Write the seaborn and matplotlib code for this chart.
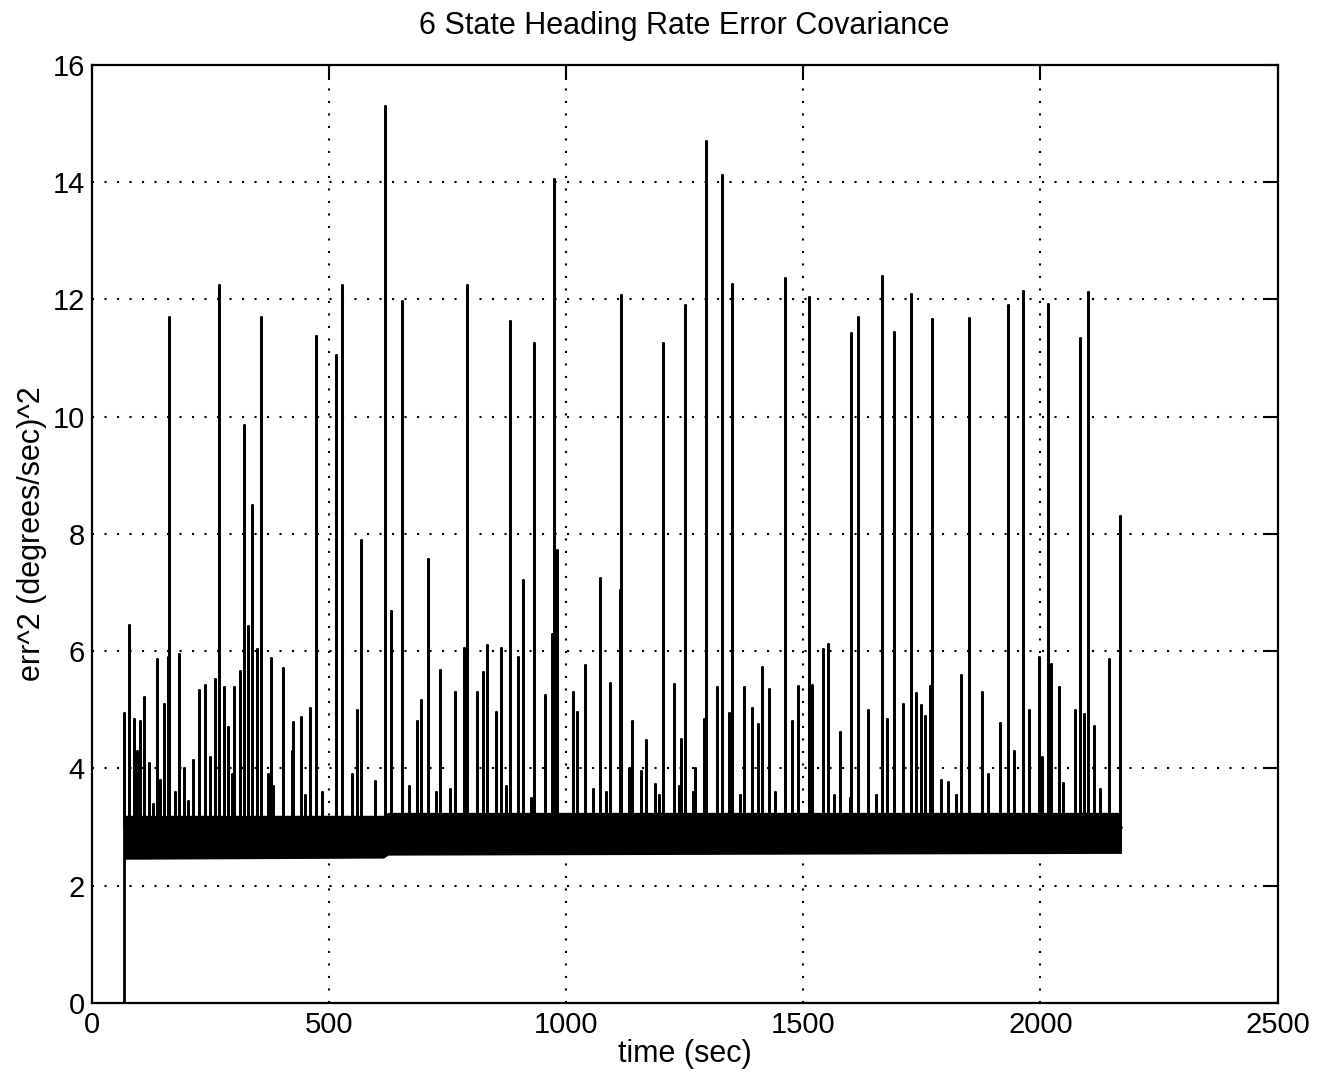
import numpy as np
import pandas as pd
import matplotlib
matplotlib.use("Agg")
import matplotlib.pyplot as plt
import seaborn as sns

# ---- data ----
# large spikes (time in sec, value)
big_t = [164, 268, 322, 339, 357, 474, 516, 528, 568, 618, 632, 655, 710, 791, 883,
         909, 932, 974, 982, 1071, 1113, 1115, 1204, 1250, 1296, 1329, 1350, 1461,
         1512, 1601, 1616, 1666, 1692, 1727, 1772, 1850, 1932, 1963, 2017, 2084,
         2100, 2167]
big_v = [11.7, 12.25, 9.86, 8.5, 11.7, 11.37, 11.06, 12.24, 7.9, 15.3, 6.68, 11.98,
         7.58, 12.25, 11.64, 7.22, 11.26, 14.05, 7.72, 7.24, 7.05, 12.07, 11.26, 11.9,
         14.7, 14.12, 12.26, 12.37, 12.05, 11.43, 11.7, 12.4, 11.45, 12.09, 11.66,
         11.69, 11.9, 12.15, 11.93, 11.35, 12.13, 8.3]

# medium spikes
mid_t = [68, 79, 90, 102, 110, 137, 153, 160, 184, 214, 226, 240, 261, 280, 288, 301,
         313, 330, 348, 378, 404, 425, 441, 460, 559, 686, 695, 734, 767, 786, 812,
         824, 834, 852, 862, 899, 955, 971, 1015, 1023, 1041, 1092, 1133, 1140, 1159,
         1168, 1227, 1243, 1271, 1290, 1319, 1343, 1376, 1393, 1404, 1414, 1429, 1477,
         1489, 1519, 1541, 1553, 1577, 1636, 1677, 1711, 1738, 1749, 1756, 1768, 1791,
         1805, 1833, 1877, 1914, 1945, 1977, 1997, 2004, 2023, 2039, 2072, 2091, 2114,
         2144]
mid_v = [4.94, 6.44, 4.84, 4.8, 5.21, 5.86, 5.1, 5.9, 5.95, 4.14, 5.33, 5.43, 5.52,
         5.38, 4.7, 5.38, 5.66, 6.43, 6.03, 5.88, 5.72, 4.79, 4.88, 5.03, 5.0, 4.8,
         5.16, 5.68, 5.3, 6.05, 5.3, 5.64, 6.1, 4.96, 6.05, 5.9, 5.25, 6.3, 5.3, 4.96,
         5.76, 5.45, 4.0, 4.8, 3.95, 4.48, 5.44, 4.5, 4.0, 4.85, 5.38, 4.94, 5.38, 5.03,
         4.75, 5.73, 5.36, 4.8, 5.4, 5.43, 6.03, 6.12, 4.62, 5.0, 4.85, 5.1, 5.28, 5.08,
         4.89, 5.4, 3.8, 3.76, 5.6, 5.3, 4.77, 4.3, 5.0, 5.9, 4.19, 5.78, 5.38, 5.0,
         4.93, 4.72, 5.86]

# small spikes just above the dense band
small_t = [95, 120, 130, 145, 175, 195, 204, 250, 295, 372, 383, 422, 450, 485, 548,
           597, 670, 727, 756, 874, 927, 1057, 1085, 1187, 1197, 1239, 1268, 1366,
           1440, 1566, 1598, 1654, 1822, 1889, 2047, 2125]
small_v = [4.3, 4.1, 3.4, 3.8, 3.6, 4.0, 3.45, 4.2, 3.9, 3.9, 3.7, 4.3, 3.55, 3.6,
           3.9, 3.78, 3.7, 3.6, 3.65, 3.7, 3.5, 3.65, 3.6, 3.73, 3.55, 3.7, 3.6, 3.55,
           3.6, 3.55, 3.5, 3.55, 3.55, 3.9, 3.75, 3.65]

# dense noise band envelope
band_t = [68, 615, 625, 2171]
band_lo = [2.45, 2.47, 2.52, 2.55]
band_hi = [3.2, 3.2, 3.25, 3.25]

start_t, start_v = 68, 0.0
base_level = 3.0

x_ticks = [0, 500, 1000, 1500, 2000, 2500]
y_ticks = [0, 2, 4, 6, 8, 10, 12, 14, 16]

title = "6 State Heading Rate Error Covariance"
xlabel = "time (sec)"
ylabel = "err^2 (degrees/sec)^2"

# ---- build the series ----
spk = pd.DataFrame({"t": big_t + mid_t + small_t, "v": big_v + mid_v + small_v})
spk = spk.sort_values("t", kind="stable").reset_index(drop=True)
ts, vs = [start_t], [start_v]
for t, v in zip(spk["t"], spk["v"]):
    ts += [t, t, t]
    vs += [base_level, v, base_level]
ts.append(band_t[-1])
vs.append(base_level)
series = pd.DataFrame({"t": ts, "v": vs})

# ---- plot ----
sns.set_style("white")
plt.rcParams["font.family"] = ["Liberation Sans", "DejaVu Sans"]
plt.rcParams["text.color"] = "black"
plt.rcParams["axes.labelcolor"] = "black"
plt.rcParams["xtick.color"] = "black"
plt.rcParams["ytick.color"] = "black"

fig = plt.figure(figsize=(13.28, 10.83), dpi=100)
ax = fig.add_axes([0.069, 0.074, 0.893, 0.866])

ax.fill_between(band_t, band_lo, band_hi, color="black", lw=0, zorder=3)
sns.lineplot(data=series, x="t", y="v", sort=False, estimator=None,
             color="black", lw=2.0, ax=ax, zorder=4)

ax.set_xlim(0, 2500)
ax.set_ylim(0, 16)
ax.set_xticks(x_ticks)
ax.set_yticks(y_ticks)
ax.grid(True, color="black", linestyle=(0, (1, 5)), lw=1.5)
ax.set_axisbelow(True)
ax.tick_params(direction="in", length=11, width=1.5, top=True, right=True,
               labelsize=21, colors="black")
ax.tick_params(axis="x", pad=6)
ax.tick_params(axis="y", pad=5)
for s in ax.spines.values():
    s.set_visible(True)
    s.set_color("black")
    s.set_linewidth(1.6)

ax.set_title(title, fontsize=22, pad=22, color="black")
ax.set_xlabel(xlabel, fontsize=22, labelpad=0, color="black")
ax.set_ylabel(ylabel, fontsize=22, labelpad=4, color="black")

fig.savefig("out.png", dpi=100, facecolor="white")
